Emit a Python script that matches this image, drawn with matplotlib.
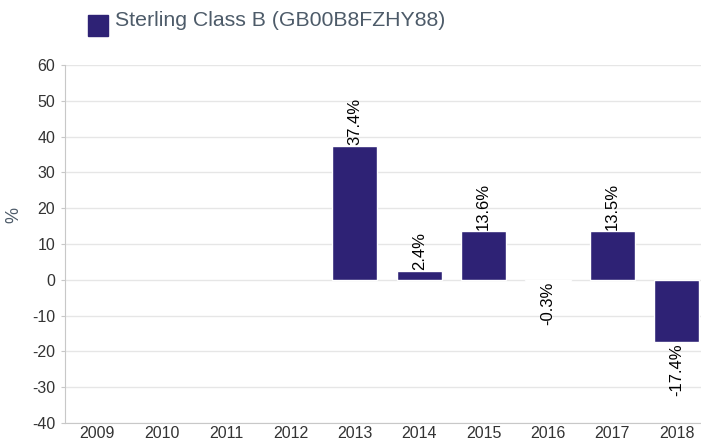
import numpy as np
import matplotlib.pyplot as plt
from matplotlib.patches import Rectangle

years = ['2009', '2010', '2011', '2012', '2013', '2014', '2015', '2016', '2017', '2018']
returns = [np.nan, np.nan, np.nan, np.nan, 37.4, 2.4, 13.6, -0.3, 13.5, -17.4]
series_name = 'Sterling Class B (GB00B8FZHY88)'

bar_color = '#2e2275'
grid_color = '#e6e6e6'
text_color = '#333333'
title_color = '#4d5b69'

plt.rcParams['font.family'] = ['Liberation Sans', 'DejaVu Sans']
plt.rcParams['axes.unicode_minus'] = False

fig = plt.figure(figsize=(7.01, 4.43), dpi=100)
# plot area runs a little past the right edge, as in the original
ax = fig.add_axes([65 / 701, 20 / 443, 644 / 701, 358 / 443])

x = np.arange(len(years))
vals = np.array(returns, dtype=float)
mask = ~np.isnan(vals)
ax.bar(x[mask], vals[mask], width=0.7, color=bar_color, edgecolor='white', linewidth=1.0, zorder=3)

for xi, v in zip(x[mask], vals[mask]):
    if v >= 0:
        ax.text(xi, v + 0.3, f'{v:.1f}%', rotation=90, ha='center', va='bottom',
                fontsize=12, color='black', zorder=4)
    else:
        ax.text(xi, v - 0.3, f'{v:.1f}%', rotation=90, ha='center', va='top',
                fontsize=12, color='black', zorder=4)

ax.set_xlim(-0.5, len(years) - 0.5)
ax.set_ylim(-40, 60)
ax.set_yticks(np.arange(-40, 61, 10))
ax.set_xticks(x)
ax.set_xticklabels(years)
ax.yaxis.grid(True, color=grid_color, linewidth=1, zorder=0)
ax.set_axisbelow(True)

for side in ['top', 'right']:
    ax.spines[side].set_visible(False)
ax.spines['left'].set_color('#c8c8c8')
ax.spines['bottom'].set_color('#c8c8c8')
ax.tick_params(axis='x', length=0, labelsize=11.5, colors=text_color, pad=2.5)
ax.tick_params(axis='y', length=3, color='#c8c8c8', labelsize=11.5, colors=text_color, pad=4)

fig.text(14 / 701, 1 - 215 / 443, '%', rotation=90, fontsize=13, color=title_color,
         ha='center', va='center')

# legend-style header
fig.patches.append(Rectangle((88 / 701, 1 - 36 / 443), 20 / 701, 21 / 443,
                             transform=fig.transFigure, color=bar_color))
fig.text(115 / 701, 1 - 21 / 443, series_name, fontsize=15.3, color=title_color,
         ha='left', va='center')

fig.savefig('out.png', dpi=100)
